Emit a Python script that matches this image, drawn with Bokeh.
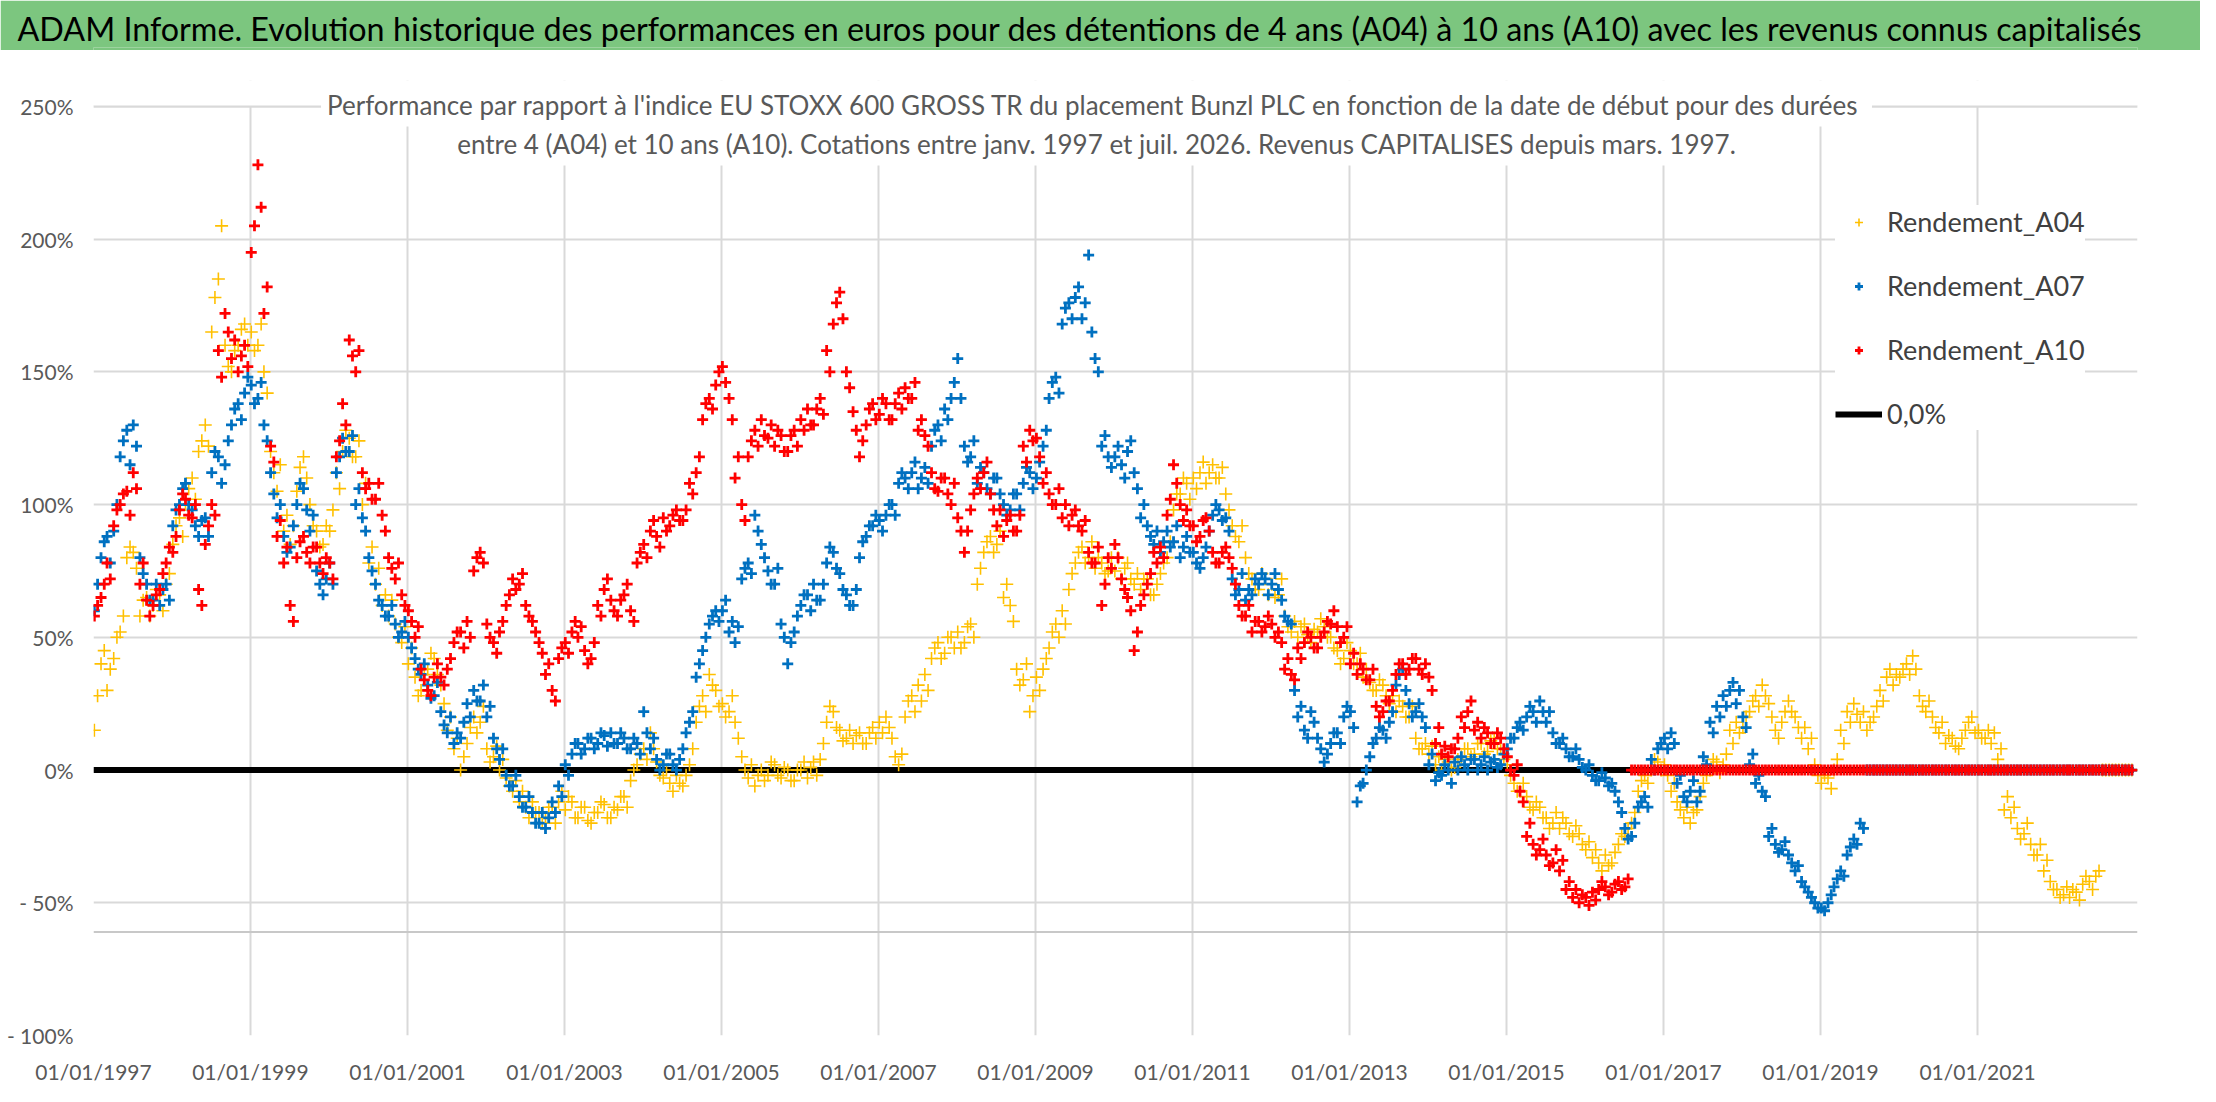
import pandas as pd
from bokeh.plotting import figure
from bokeh.models import (ColumnDataSource, FixedTicker, Span, Label, Legend, LegendItem,
                          Range1d, DatetimeTickFormatter, BoxAnnotation)
from bokeh.layouts import column
from bokeh.embed import file_html
from bokeh.resources import INLINE

FONT = "Lato"

title_text = ("ADAM Informe. Evolution historique des performances en euros pour des détentions "
              "de 4 ans (A04) à 10 ans (A10) avec les revenus connus capitalisés")
subtitle_1 = ("Performance par rapport à l'indice EU STOXX 600 GROSS TR  du placement Bunzl PLC "
              "en fonction de la date de début pour des durées")
subtitle_2 = ("entre 4 (A04) et 10 ans (A10). Cotations entre janv. 1997 et juil. 2026. "
              "Revenus CAPITALISES depuis mars. 1997.")

# Readings of the clouds (%), two per month: "_a" early in the month, "_b" late in the month.
# First value = janv. 1997. Trailing zeros: start dates whose horizon is not yet reached.
rendement_a04_a = [
    15, 40, 30, 42, 52, 80, 82, 58, 65, 62, 66, 70,            # 1997
    85, 95, 100, 110, 120, 130, 165, 185, 160, 150, 160, 168,  # 1998
    165, 160, 150, 120, 105, 90, 85, 105, 118, 100, 90, 85,    # 1999
    90, 112, 120, 125, 118, 100, 78, 70, 62, 58, 55, 48,       # 2000
    40, 35, 30, 38, 42, 32, 15, 8, 0, 10, 20, 18,              # 2001
    8, 5, 0, -3, -8, -12, -14, -12, -16, -18, -14, -12,        # 2002
    -15, -12, -18, -14, -20, -16, -13, -18, -15, -10, -4, 2,   # 2003
    8, 14, 3, -3, -5, -2, -6, 2, 18, 28, 36, 30,               # 2004
    25, 22, 18, 5, -3, -6, 0, -2, 2, -3, 0, -4,                # 2005
    0, -3, 3, 4, 18, 22, 15, 12, 10, 14, 10, 16,               # 2006
    18, 20, 12, 2, 20, 28, 32, 36, 42, 48, 44, 50,             # 2007
    52, 48, 55, 70, 82, 88, 85, 65, 62, 38, 34, 22,            # 2008
    35, 38, 46, 55, 60, 68, 78, 84, 80, 76, 78, 75,            # 2009
    75, 72, 78, 70, 68, 72, 66, 74, 80, 98, 104, 108,          # 2010
    110, 112, 108, 115, 110, 104, 92, 86, 80, 72, 68, 72,      # 2011
    70, 66, 58, 52, 50, 55, 48, 52, 54, 50, 45, 42,            # 2012
    45, 40, 35, 33, 30, 32, 25, 22, 24, 20, 12, 8,             # 2013
    6, 2, 0, 3, 1, 5, 8, 6, 10, 7, 12, 8,                      # 2014
    2, -5, -8, -10, -15, -14, -18, -20, -22, -20, -25, -24,    # 2015
    -30, -33, -35, -32, -35, -28, -25, -20, -8, -2, 0, 3,      # 2016
    2, -8, -12, -18, -20, -15, -5, 0, 3, 2, 15, 18,            # 2017
    16, 22, 28, 32, 25, 15, 18, 26, 20, 12, 8, 2,              # 2018
    -5, -3, 0, 15, 22, 25, 18, 15, 20, 30, 35, 32,             # 2019
    35, 40, 43, 28, 22, 20, 14, 10, 12, 8, 15, 20,             # 2020
    15, 12, 10, 4, -15, -18, -22, -24, -28, -32, -38, -42,     # 2021
    -45, -47, -48, -46, -43, -42, -40, 0, 0, 0, 0, 0,          # 2022
]
rendement_a04_b = [
    28, 45, 38, 50, 58, 84, 76, 64, 58, 68, 60, 74,            # 1997
    92, 88, 106, 102, 124, 122, 178, 205, 152, 158, 166, 160,  # 1998
    158, 168, 142, 112, 115, 96, 92, 114, 110, 92, 84, 92,     # 1999
    98, 106, 128, 118, 124, 108, 84, 76, 66, 64, 50, 54,       # 2000
    46, 28, 36, 44, 36, 25, 20, 12, 5, 16, 14, 24,             # 2001
    3, 9, 4, -6, -4, -8, -18, -16, -20, -14, -20, -8,          # 2002
    -10, -18, -14, -19, -16, -12, -18, -14, -10, -14, 0, 6,    # 2003
    4, 8, -2, 0, -8, -5, -2, 8, 24, 22, 32, 24,                # 2004
    20, 28, 12, 0, 2, -2, -4, 3, -2, 1, -4, 0,                 # 2005
    3, 1, -2, 10, 24, 16, 11, 15, 13, 10, 14, 12,              # 2006
    14, 16, 5, 6, 26, 22, 26, 30, 46, 42, 50, 46,              # 2007
    46, 54, 50, 76, 86, 82, 90, 70, 56, 32, 40, 28,            # 2008
    30, 42, 52, 50, 55, 74, 82, 78, 86, 80, 74, 80,            # 2009
    80, 76, 72, 74, 72, 66, 70, 78, 86, 104, 110, 102,         # 2010
    106, 116, 112, 110, 114, 98, 88, 92, 74, 68, 74, 66,       # 2011
    65, 72, 54, 56, 54, 51, 53, 57, 50, 46, 40, 48,            # 2012
    40, 44, 38, 30, 34, 28, 28, 26, 20, 24, 8, 10,             # 2013
    9, 5, 4, 0, 4, 8, 5, 10, 6, 11, 8, 4,                      # 2014
    -2, -8, -5, -14, -12, -18, -22, -16, -18, -24, -21, -28,   # 2015
    -27, -30, -38, -36, -31, -24, -22, -16, -4, -5, 4, 0,      # 2016
    -2, -5, -15, -14, -16, -10, -2, 4, -1, 6, 10, 14,          # 2017
    20, 26, 24, 28, 20, 12, 22, 22, 16, 16, 12, -2,            # 2018
    -2, -7, 4, 10, 18, 21, 22, 18, 24, 26, 38, 36,             # 2019
    38, 36, 38, 24, 26, 16, 18, 13, 9, 12, 18, 14,             # 2020
    12, 15, 14, 8, -10, -14, -26, -20, -32, -28, -34, -45,     # 2021
    -48, -44, -45, -49, -40, -45, -38, 0, 0, 0, 0, 0,          # 2022
]

rendement_a07_a = [
    60, 80, 88, 90, 118, 128, 130, 80, 70, 64, 62, 70,         # 1997
    92, 100, 108, 98, 88, 95, 112, 118, 115, 130, 138, 142,    # 1998
    145, 140, 130, 112, 95, 88, 84, 100, 106, 90, 75, 66,      # 1999
    78, 112, 125, 120, 100, 95, 80, 70, 62, 58, 55, 52,        # 2000
    50, 42, 36, 32, 28, 22, 14, 10, 12, 25, 30, 26,            # 2001
    20, 12, 4, -2, -6, -10, -14, -16, -20, -22, -12, -6,       # 2002
    2, 6, 10, 8, 12, 10, 13, 14, 10, 12, 8, 10,                # 2003
    22, 8, 4, 2, 6, 0, 8, 18, 35, 45, 55, 60,                  # 2004
    60, 52, 48, 72, 78, 96, 85, 75, 70, 55, 40, 52,            # 2005
    62, 66, 70, 64, 78, 82, 74, 66, 62, 80, 88, 92,            # 2006
    94, 96, 100, 108, 110, 112, 106, 114, 122, 130, 136, 140,  # 2007
    155, 122, 118, 108, 112, 104, 110, 100, 98, 104, 108, 112, # 2008
    110, 122, 140, 148, 168, 176, 178, 170, 194, 155, 122, 118,# 2009
    118, 115, 120, 112, 95, 92, 85, 82, 90, 86, 80, 88,        # 2010
    82, 76, 84, 96, 98, 95, 72, 68, 64, 66, 70, 72,            # 2011
    70, 68, 58, 55, 20, 15, 22, 12, 3, 10, 14, 20,             # 2012
    22, -12, -5, 5, 12, 15, 18, 32, 38, 25, 22, 20,            # 2013
    2, -4, -2, 0, 3, 5, 0, 4, 2, 0, 4, 2,                      # 2014
    8, 12, 18, 20, 22, 26, 18, 14, 10, 8, 5, 4,                # 2015
    0, -2, -4, -3, -5, -12, -22, -25, -14, -10, 4, 8,          # 2016
    12, 14, -5, -10, -8, -12, 5, 18, 24, 28, 30, 25,           # 2017
    20, 2, -5, -8, -25, -28, -30, -32, -38, -42, -46, -50,     # 2018
    -52, -50, -44, -38, -32, -26, -20, 0, 0, 0, 0, 0,          # 2019
    0, 0, 0, 0, 0, 0, 0, 0, 0, 0, 0, 0,                        # 2020
    0, 0, 0, 0, 0, 0, 0, 0, 0, 0, 0, 0,                        # 2021
    0, 0, 0, 0, 0, 0, 0, 0, 0, 0, 0, 0,                        # 2022
]
rendement_a07_b = [
    70, 86, 78, 100, 124, 115, 122, 74, 64, 70, 68, 64,        # 1997
    98, 106, 100, 92, 94, 88, 120, 108, 124, 136, 132, 148,    # 1998
    138, 146, 124, 104, 100, 82, 92, 108, 98, 96, 70, 72,      # 1999
    70, 118, 120, 126, 106, 90, 75, 64, 58, 62, 50, 56,        # 2000
    46, 38, 40, 27, 33, 17, 20, 14, 18, 20, 26, 32,            # 2001
    24, 8, 8, -6, -2, -14, -10, -20, -16, -18, -16, -10,       # 2002
    -2, 10, 6, 12, 8, 14, 9, 10, 14, 8, 12, 6,                 # 2003
    14, 12, 0, 6, 2, 4, 14, 22, 40, 50, 58, 56,                # 2004
    64, 56, 54, 76, 74, 90, 80, 70, 76, 50, 48, 58,            # 2005
    66, 60, 64, 70, 84, 76, 68, 62, 68, 86, 92, 96,            # 2006
    90, 100, 96, 112, 106, 116, 110, 108, 128, 124, 132, 146,  # 2007
    140, 116, 124, 114, 106, 110, 104, 96, 104, 98, 114, 106,  # 2008
    116, 128, 146, 142, 174, 170, 182, 176, 165, 150, 126, 114,# 2009
    122, 110, 124, 106, 100, 88, 90, 86, 84, 92, 84, 82,       # 2010
    78, 80, 90, 100, 94, 90, 66, 74, 68, 72, 74, 66,           # 2011
    74, 64, 56, 30, 24, 12, 18, 8, 6, 14, 10, 24,              # 2012
    16, -6, 0, 10, 16, 12, 22, 36, 30, 20, 25, 16,             # 2013
    6, -1, 2, -5, 0, 2, 4, 0, 5, 3, 1, 6,                      # 2014
    12, 16, 15, 24, 18, 22, 22, 10, 12, 5, 8, 1,               # 2015
    2, -4, -1, -6, -8, -16, -26, -20, -12, -14, 0, 10,         # 2016
    8, 10, -2, -12, -4, -8, 2, 14, 20, 24, 33, 30,             # 2017
    16, 6, -2, -10, -22, -31, -27, -35, -36, -44, -48, -52,    # 2018
    -53, -47, -41, -40, -29, -28, -22, 0, 0, 0, 0, 0,          # 2019
    0, 0, 0, 0, 0, 0, 0, 0, 0, 0, 0, 0,                        # 2020
    0, 0, 0, 0, 0, 0, 0, 0, 0, 0, 0, 0,                        # 2021
    0, 0, 0, 0, 0, 0, 0, 0, 0, 0, 0, 0,                        # 2022
]

rendement_a10_a = [
    58, 65, 78, 92, 100, 105, 112, 70, 64, 62, 68, 78,         # 1997
    82, 98, 102, 95, 68, 85, 100, 158, 172, 155, 150, 160,     # 1998
    195, 228, 172, 122, 88, 78, 62, 80, 88, 78, 84, 74,        # 1999
    78, 118, 138, 162, 150, 112, 108, 102, 96, 80, 72, 66,     # 2000
    60, 50, 38, 30, 35, 35, 38, 48, 52, 56, 75, 82,            # 2001
    55, 48, 52, 62, 72, 70, 62, 56, 48, 36, 30, 42,            # 2002
    48, 52, 50, 45, 42, 62, 68, 64, 58, 66, 60, 78,            # 2003
    85, 90, 88, 95, 92, 98, 94, 108, 112, 132, 140, 145,       # 2004
    152, 140, 110, 100, 118, 128, 132, 125, 122, 126, 120, 128,# 2005
    132, 136, 130, 140, 158, 168, 180, 150, 135, 118, 130, 138,# 2006
    134, 138, 132, 142, 144, 140, 128, 126, 112, 105, 110, 100,# 2007
    95, 82, 98, 110, 112, 104, 92, 88, 96, 90, 122, 128,       # 2008
    125, 108, 104, 100, 95, 92, 98, 90, 82, 78, 62, 80,        # 2009
    85, 72, 65, 45, 62, 70, 82, 84, 96, 115, 100, 98,          # 2010
    92, 88, 95, 82, 78, 84, 76, 62, 58, 52, 56, 54,            # 2011
    55, 52, 38, 36, 46, 48, 50, 46, 52, 55, 54, 50,            # 2012
    40, 36, 38, 34, 24, 22, 26, 36, 40, 38, 42, 36,            # 2013
    35, 10, 6, 5, 8, 20, 22, 15, 12, 14, 10, 12,               # 2014
    5, -2, -8, -25, -28, -30, -32, -35, -38, -45, -48, -50,    # 2015
    -48, -46, -45, -44, -46, -42, -44, 0, 0, 0, 0, 0,          # 2016
    0, 0, 0, 0, 0, 0, 0, 0, 0, 0, 0, 0,                        # 2017
    0, 0, 0, 0, 0, 0, 0, 0, 0, 0, 0, 0,                        # 2018
    0, 0, 0, 0, 0, 0, 0, 0, 0, 0, 0, 0,                        # 2019
    0, 0, 0, 0, 0, 0, 0, 0, 0, 0, 0, 0,                        # 2020
    0, 0, 0, 0, 0, 0, 0, 0, 0, 0, 0, 0,                        # 2021
    0, 0, 0, 0, 0, 0, 0, 0, 0, 0, 0, 0,                        # 2022
]
rendement_a10_b = [
    62, 70, 72, 98, 104, 96, 106, 78, 58, 66, 74, 84,          # 1997
    88, 104, 96, 100, 62, 92, 96, 148, 165, 162, 156, 152,     # 1998
    205, 212, 182, 116, 94, 84, 56, 86, 82, 84, 78, 80,        # 1999
    72, 124, 130, 156, 158, 106, 102, 108, 90, 76, 78, 62,     # 2000
    56, 54, 34, 28, 40, 32, 42, 52, 46, 50, 80, 78,            # 2001
    50, 44, 56, 66, 68, 74, 58, 52, 44, 40, 26, 46,            # 2002
    44, 56, 54, 40, 48, 58, 72, 60, 64, 70, 56, 82,            # 2003
    80, 94, 84, 90, 96, 94, 98, 104, 118, 138, 136, 150,       # 2004
    146, 132, 118, 94, 124, 122, 126, 130, 128, 120, 126, 122, # 2005
    128, 130, 136, 134, 150, 176, 170, 144, 128, 124, 136, 132,# 2006
    140, 132, 138, 136, 140, 146, 132, 122, 106, 110, 104, 108,# 2007
    90, 90, 104, 106, 116, 98, 98, 94, 90, 96, 116, 124,       # 2008
    118, 112, 100, 106, 100, 96, 92, 94, 78, 84, 70, 76,       # 2009
    80, 68, 60, 52, 66, 74, 78, 80, 102, 108, 94, 92,          # 2010
    86, 94, 90, 78, 82, 80, 70, 58, 62, 56, 52, 58,            # 2011
    50, 48, 42, 34, 42, 52, 46, 50, 56, 60, 48, 54,            # 2012
    44, 40, 34, 38, 20, 26, 30, 40, 36, 42, 38, 40,            # 2013
    30, 16, 9, 8, 12, 16, 26, 18, 16, 10, 14, 8,               # 2014
    0, 2, -12, -20, -32, -26, -36, -30, -34, -42, -45, -47,    # 2015
    -51, -49, -42, -47, -43, -45, -41, 0, 0, 0, 0, 0,          # 2016
    0, 0, 0, 0, 0, 0, 0, 0, 0, 0, 0, 0,                        # 2017
    0, 0, 0, 0, 0, 0, 0, 0, 0, 0, 0, 0,                        # 2018
    0, 0, 0, 0, 0, 0, 0, 0, 0, 0, 0, 0,                        # 2019
    0, 0, 0, 0, 0, 0, 0, 0, 0, 0, 0, 0,                        # 2020
    0, 0, 0, 0, 0, 0, 0, 0, 0, 0, 0, 0,                        # 2021
    0, 0, 0, 0, 0, 0, 0, 0, 0, 0, 0, 0,                        # 2022
]

zero_dates = ["1997-01-01", "2022-12-28"]
zero_values = [0, 0]

axis_cross = -61  # Excel horizontal axis crossing value
y_ticks = [250, 200, 150, 100, 50, 0, -50, -100]
y_labels = ["250%", "200%", "150%", "100%", "50%", "0%", "- 50%", "- 100%"]
x_tick_years = [1997, 1999, 2001, 2003, 2005, 2007, 2009, 2011, 2013, 2015, 2017, 2019, 2021]


def month_dates(n, day):
    return pd.date_range("1997-01-01", periods=n, freq="MS") + pd.Timedelta(days=day)


def ms(d):
    return int(pd.Timestamp(d).timestamp() * 1000)


# ---- green title band (title drawn as the figure's Title so it is not clipped to the frame)
head = figure(width=2200, height=50, x_range=(0, 1), y_range=(0, 1),
              toolbar_location=None, output_backend="svg",
              x_axis_location=None, y_axis_location=None,
              min_border_top=47, min_border_bottom=0, min_border_left=0, min_border_right=0)
head.background_fill_color = "#7CC67F"
head.border_fill_color = "#7CC67F"
head.outline_line_color = None
head.grid.visible = False
head.title.text = title_text
head.title.align = "left"
head.title.offset = -76
head.title.standoff = 0
head.title.vertical_align = "bottom"
head.title.text_font = FONT
head.title.text_font_size = "32.3px"
head.title.text_font_style = "normal"
head.title.text_color = "black"

# ---- main chart (frame top sits a little above 250% so the subtitle is not clipped)
p = figure(width=2200, height=1036, x_axis_type="datetime",
           toolbar_location=None, output_backend="svg",
           x_range=Range1d(ms("1997-01-01"), ms("2023-01-15")),
           y_range=Range1d(-100, 259.75),
           min_border_left=93, min_border_right=63, min_border_top=30, min_border_bottom=49)
p.outline_line_color = None

x_ticks = [ms(f"{y}-01-01") for y in x_tick_years]
p.xaxis.ticker = FixedTicker(ticks=x_ticks)
p.xaxis.formatter = DatetimeTickFormatter(years="%d/%m/%Y", months="%d/%m/%Y", days="%d/%m/%Y")
p.xaxis.major_label_overrides = {t: f"01/01/{y}" for t, y in zip(x_ticks, x_tick_years)}
p.yaxis.ticker = FixedTicker(ticks=y_ticks)
p.yaxis.major_label_overrides = dict(zip(y_ticks, y_labels))
p.xgrid.ticker = FixedTicker(ticks=x_ticks)
p.ygrid.ticker = FixedTicker(ticks=y_ticks)
for g in (p.xgrid, p.ygrid):
    g.grid_line_color = "#D9D9D9"
    g.grid_line_width = 2
for ax in (p.xaxis, p.yaxis):
    ax.axis_line_color = None
    ax.major_tick_line_color = None
    ax.minor_tick_line_color = None
    ax.major_label_text_font = FONT
    ax.major_label_text_font_size = "21px"
    ax.major_label_text_color = "#595959"
p.yaxis.major_label_standoff = 14
p.xaxis.major_label_standoff = 17

# hide the vertical grid above the 250% line
p.add_layout(BoxAnnotation(bottom=250, fill_color="white", fill_alpha=1.0,
                           line_color=None, level="underlay"))
p.add_layout(Span(location=250, dimension="width", line_color="#D9D9D9", line_width=2,
                  level="underlay"))
p.add_layout(Span(location=axis_cross, dimension="width", line_color="#C8C8C8", line_width=2))

r_zero = p.line(x=pd.to_datetime(zero_dates), y=zero_values, line_color="black", line_width=6)

series = [
    ("Rendement_A04", rendement_a04_a, rendement_a04_b, "#FFC000", 13, 1.6),
    ("Rendement_A07", rendement_a07_a, rendement_a07_b, "#0070C0", 11, 2.8),
    ("Rendement_A10", rendement_a10_a, rendement_a10_b, "#FF0000", 11, 2.8),
]
items = []
for name, va, vb, clr, sz, lw in series:
    dates = month_dates(len(va), 4).append(month_dates(len(vb), 19))
    src = ColumnDataSource(dict(date=dates, val=va + vb))
    r = p.scatter(x="date", y="val", source=src, marker="cross", size=sz,
                  line_color=clr, line_width=lw)
    items.append(LegendItem(label=name, renderers=[r]))
items.append(LegendItem(label="0,0%", renderers=[r_zero]))

legend = Legend(items=items, location=(1742, 605), glyph_width=47, glyph_height=20,
                label_standoff=5, spacing=31, padding=20, margin=0,
                label_text_font=FONT, label_text_font_size="27px", label_text_color="#404040",
                background_fill_color="white", background_fill_alpha=1.0,
                border_line_color=None)
p.add_layout(legend)

for txt, yy in ((subtitle_1, 931), (subtitle_2, 892)):
    p.add_layout(Label(x=1003, y=yy, x_units="screen", y_units="screen", text=txt,
                       text_align="center", text_baseline="middle",
                       text_font=FONT, text_font_size="26px", text_color="#595959",
                       background_fill_color="white", background_fill_alpha=1.0,
                       padding=6))

page = column(head, p)
open("out.html", "w").write(file_html(page, INLINE))
